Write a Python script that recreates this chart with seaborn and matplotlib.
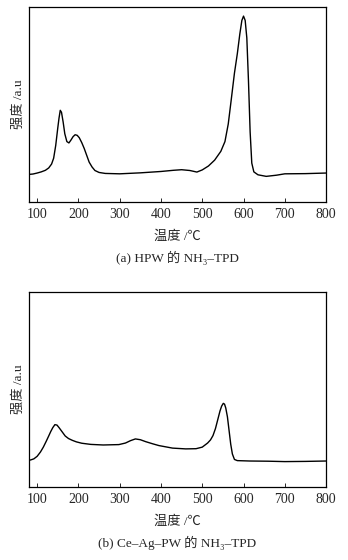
import numpy as np
import pandas as pd
import seaborn as sns
import matplotlib.pyplot as plt

# (a) HPW NH3-TPD, intensity in arbitrary units (0-1 of the axis height)
temp_a = [80, 90, 100, 110, 120, 128, 135, 140, 145, 150, 153, 156, 159, 163, 167, 172,
          177, 182, 187, 192, 197, 202, 208, 214, 220, 226, 233, 240, 250, 265, 300,
          350, 400, 430, 450, 470, 487, 500, 515, 530, 545, 555, 563, 570, 578, 585,
          591, 596, 600, 604, 608, 612, 616, 620, 625, 635, 655, 680, 700, 750, 800]
int_a = [0.142, 0.144, 0.149, 0.155, 0.163, 0.175, 0.195, 0.225, 0.29, 0.38, 0.43, 0.47,
         0.46, 0.41, 0.35, 0.31, 0.303, 0.318, 0.335, 0.345, 0.342, 0.33, 0.305, 0.275,
         0.24, 0.205, 0.18, 0.162, 0.152, 0.147, 0.145, 0.150, 0.157, 0.163, 0.166, 0.162,
         0.154, 0.165, 0.185, 0.215, 0.26, 0.31, 0.40, 0.52, 0.66, 0.76, 0.86, 0.93,
         0.952, 0.93, 0.84, 0.62, 0.36, 0.20, 0.155, 0.140, 0.132, 0.138, 0.145, 0.146, 0.149]

# (b) Ce-Ag-PW NH3-TPD
temp_b = [78, 85, 92, 100, 108, 115, 122, 128, 133, 138, 143, 148, 153, 160, 168, 176,
          185, 195, 208, 230, 260, 298, 314, 326, 338, 350, 363, 380, 395, 428, 460,
          485, 500, 513, 520, 526, 532, 538, 543, 547, 551, 554, 557, 561, 565, 569,
          573, 578, 585, 615, 660, 700, 750, 800]
int_b = [0.136, 0.140, 0.145, 0.158, 0.180, 0.205, 0.235, 0.262, 0.285, 0.305, 0.320,
         0.318, 0.305, 0.285, 0.262, 0.249, 0.240, 0.232, 0.225, 0.219, 0.216, 0.218,
         0.226, 0.238, 0.247, 0.243, 0.233, 0.222, 0.213, 0.200, 0.196, 0.197, 0.205,
         0.226, 0.242, 0.264, 0.30, 0.349, 0.39, 0.415, 0.429, 0.425, 0.405, 0.36, 0.29,
         0.22, 0.17, 0.142, 0.136, 0.134, 0.133, 0.131, 0.132, 0.134]

x_ticks = [100, 200, 300, 400, 500, 600, 700, 800]
captions = ['(a) HPW 的 NH₃–TPD', '(b) Ce–Ag–PW 的 NH₃–TPD']

sns.set_style('ticks')
fams = ['Liberation Serif', 'Noto Sans CJK SC']
plt.rcParams['font.family'] = fams

fig = plt.figure(figsize=(3.48, 5.6), dpi=100)
axes = [fig.add_axes([0.083, 0.639, 0.854, 0.349]),
        fig.add_axes([0.083, 0.130, 0.854, 0.349])]

for ax, t, v, cap in zip(axes, [temp_a, temp_b], [int_a, int_b], captions):
    df = pd.DataFrame({'temp': t, 'intensity': v})
    sns.lineplot(data=df, x='temp', y='intensity', ax=ax, color='black', linewidth=1.0)
    ax.set_xlim(80, 800)
    ax.set_ylim(0, 1)
    ax.set_xticks(x_ticks)
    ax.set_yticks([])
    ax.tick_params(axis='x', direction='in', length=3, width=0.7, labelsize=10, pad=4)
    for s in ax.spines.values():
        s.set_linewidth(0.9)
        s.set_color('black')
    ax.set_xlabel('温度 /℃', fontsize=9.5, labelpad=7)
    ax.set_ylabel('强度 /a.u', fontsize=9.5, labelpad=3)
    ax.text(0.5, -0.287, cap, transform=ax.transAxes, ha='center', va='center', fontsize=9.5)

fig.savefig('out.png', dpi=100)
